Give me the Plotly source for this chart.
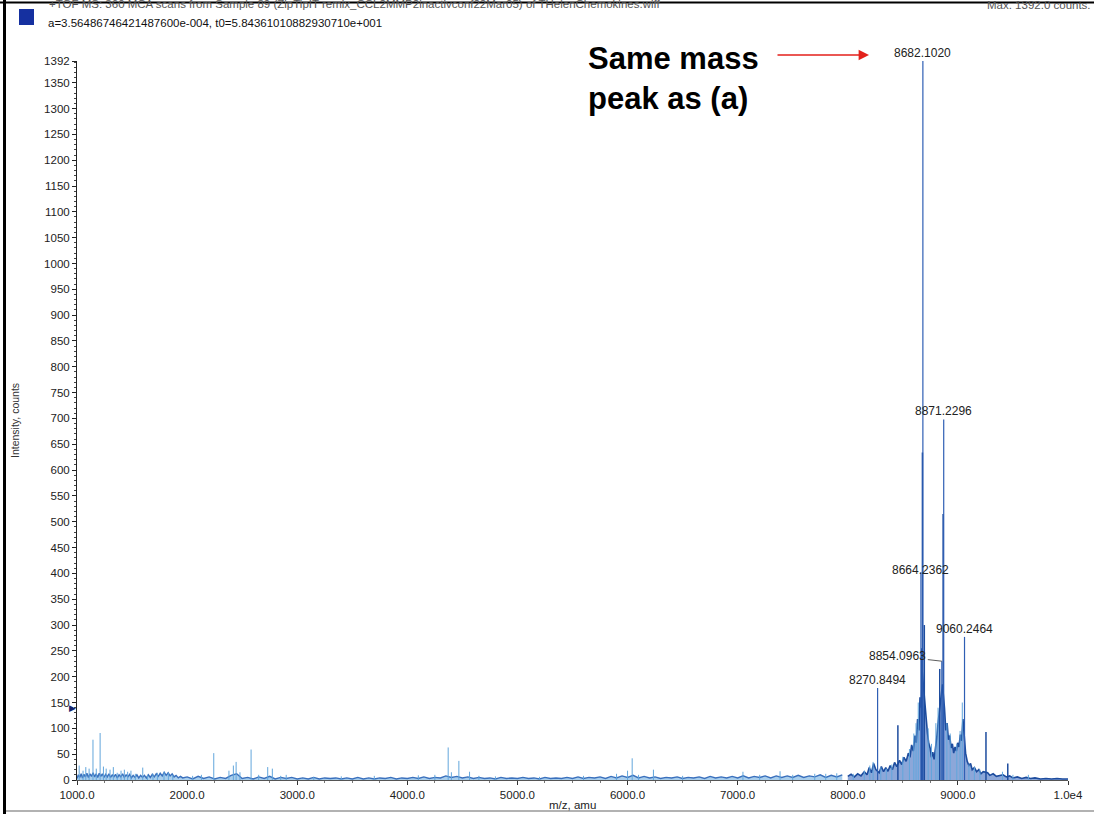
import plotly.graph_objects as go

# ---- Spectrum data (m/z in amu, intensity in counts) ----

# Baseline trace, 1000-1950 amu
low_mz = [1000, 1012, 1025, 1038, 1050, 1063, 1076, 1090, 1104, 1118,
          1132, 1146, 1160, 1174, 1188, 1202, 1216, 1230, 1245, 1260,
          1275, 1290, 1305, 1320, 1335, 1350, 1366, 1382, 1398, 1414,
          1430, 1446, 1462, 1478, 1494, 1510, 1527, 1544, 1561, 1578,
          1595, 1612, 1630, 1648, 1666, 1684, 1702, 1720, 1738, 1756,
          1774, 1792, 1810, 1828, 1846, 1864, 1882, 1900, 1920, 1940]
low_counts = [3, 10, 5, 12, 4, 11, 6, 13, 5, 12,
              7, 14, 6, 12, 5, 13, 7, 12, 5, 11,
              6, 12, 5, 10, 6, 11, 4, 10, 6, 12,
              5, 10, 6, 11, 4, 9, 5, 10, 4, 9,
              5, 9, 4, 10, 5, 11, 6, 12, 7, 13,
              8, 15, 9, 14, 8, 12, 6, 9, 4, 7]

# Baseline trace, 1960-7950 amu
mid_mz = [1960, 2000, 2050, 2100, 2150, 2200, 2250, 2300, 2350, 2400,
          2450, 2500, 2550, 2600, 2650, 2700, 2750, 2800, 2850, 2900,
          2950, 3000, 3050, 3100, 3150, 3200, 3250, 3300, 3350, 3400,
          3450, 3500, 3550, 3600, 3650, 3700, 3750, 3800, 3850, 3900,
          3950, 4000, 4050, 4100, 4150, 4200, 4250, 4300, 4350, 4400,
          4450, 4500, 4550, 4600, 4650, 4700, 4750, 4800, 4850, 4900,
          4950, 5000, 5050, 5100, 5150, 5200, 5250, 5300, 5350, 5400,
          5450, 5500, 5550, 5600, 5650, 5700, 5750, 5800, 5850, 5900,
          5950, 6000, 6050, 6100, 6150, 6200, 6250, 6300, 6350, 6400,
          6450, 6500, 6550, 6600, 6650, 6700, 6750, 6800, 6850, 6900,
          6950, 7000, 7050, 7100, 7150, 7200, 7250, 7300, 7350, 7400,
          7450, 7500, 7550, 7600, 7650, 7700, 7750, 7800, 7850, 7900,
          7950]
mid_counts = [4, 6, 2, 7, 3, 6, 2, 5, 3, 9,
              12, 3, 5, 2, 6, 3, 7, 2, 5, 3,
              5, 2, 4, 2, 5, 2, 4, 3, 4, 2,
              4, 2, 5, 2, 4, 2, 4, 3, 5, 2,
              4, 3, 5, 3, 6, 3, 5, 4, 8, 5,
              7, 4, 6, 3, 5, 3, 4, 2, 5, 3,
              4, 3, 5, 3, 4, 2, 5, 3, 4, 3,
              5, 3, 6, 3, 5, 4, 6, 3, 7, 4,
              8, 5, 9, 4, 7, 4, 6, 3, 5, 4,
              6, 3, 5, 4, 6, 3, 7, 4, 6, 4,
              7, 4, 8, 4, 7, 5, 8, 4, 8, 5,
              8, 5, 9, 5, 8, 6, 10, 5, 9, 6,
              10]

# Envelope of the 8-9.5 kDa cluster
cluster_mz = [8000, 8030, 8060, 8090, 8120, 8150, 8175, 8195, 8215, 8235,
              8255, 8285, 8305, 8325, 8345, 8365, 8385, 8405, 8425, 8445,
              8470, 8490, 8510, 8530, 8550, 8565, 8580, 8595, 8610, 8622,
              8634, 8646, 8656, 8668, 8676, 8688, 8700, 8712, 8724, 8736,
              8748, 8760, 8772, 8784, 8796, 8808, 8820, 8840, 8860, 8878,
              8890, 8902, 8914, 8926, 8938, 8950, 8962, 8974, 8986, 8998,
              9010, 9022, 9034, 9046, 9070, 9085, 9100, 9115, 9130, 9150,
              9170, 9190, 9210, 9230, 9270, 9290, 9320, 9350, 9380, 9410,
              9440, 9470, 9500, 9540, 9580, 9620, 9660, 9700, 9750, 9800,
              9850, 9900, 9950, 10000]
cluster_counts = [7, 11, 6, 12, 8, 16, 10, 24, 14, 32,
                  20, 14, 26, 16, 24, 17, 28, 20, 34, 26,
                  38, 30, 44, 36, 52, 44, 68, 56, 86, 72,
                  118, 96, 160, 140, 210, 180, 150, 110, 90, 70,
                  62, 44, 54, 40, 58, 82, 110, 150, 185, 140,
                  96, 110, 78, 86, 62, 70, 52, 64, 56, 72,
                  64, 88, 76, 118, 52, 36, 28, 32, 20, 24,
                  16, 20, 12, 16, 14, 9, 12, 7, 9, 10,
                  6, 8, 4, 6, 3, 5, 3, 4, 2, 3,
                  2, 3, 2, 2]

# Minor centroid peaks
minor_mz = [1020, 1055, 1080, 1110, 1145, 1175, 1210, 1240, 1265, 1300,
            1330, 1365, 1400, 1430, 1460, 1490, 1530, 1597, 1640, 1690,
            1730, 1790, 1830, 1870, 2050, 2130, 2242, 2380, 2420, 2445,
            2480, 2581, 2650, 2732, 2774, 2850, 2900, 3150, 3400, 3700,
            4100, 4250, 4371, 4400, 4468, 4565, 4650, 4800, 5200, 5600,
            5900, 6000, 6042, 6100, 6235, 6500, 7048, 7200, 7385, 7500,
            7700, 7800, 7900, 8050, 8150, 8200, 8230, 8300, 8350, 8400,
            8500, 8560, 8600, 8620, 8640, 8730, 8760, 8800, 8820, 8900,
            8930, 8990, 9020, 9040, 9100, 9150, 9200, 9405, 9500, 9640]
minor_counts = [28, 18, 25, 22, 78, 22, 91, 26, 22, 20,
                25, 14, 18, 20, 16, 18, 12, 24, 10, 12,
                14, 16, 14, 10, 8, 10, 52, 18, 28, 35,
                15, 59, 10, 25, 22, 8, 10, 6, 7, 8,
                9, 10, 63, 15, 37, 16, 8, 7, 6, 8,
                12, 18, 42, 10, 20, 8, 16, 10, 17, 10,
                12, 12, 13, 12, 18, 28, 35, 25, 22, 30,
                45, 60, 90, 110, 150, 100, 70, 110, 140, 110,
                90, 70, 95, 150, 30, 25, 20, 16, 10, 10]

# Strong unlabelled peaks
major_mz = [8455, 8672, 8678, 8695, 8835, 8866, 9255, 9453]
major_counts = [106, 255, 634, 300, 215, 515, 93, 32]

# Labelled peaks
label_mz = [8682.1020, 8871.2296, 8664.2362, 9060.2464, 8854.0963, 8270.8494]
label_counts = [1392, 698, 402, 277, 230, 178]

# Axis ticks
x_ticks = [1000, 2000, 3000, 4000, 5000, 6000, 7000, 8000, 9000, 10000]
x_tick_text = ["1000.0", "2000.0", "3000.0", "4000.0", "5000.0",
               "6000.0", "7000.0", "8000.0", "9000.0", "1.0e4"]
y_ticks = [0, 50, 100, 150, 200, 250, 300, 350, 400, 450, 500, 550, 600,
           650, 700, 750, 800, 850, 900, 950, 1000, 1050, 1100, 1150,
           1200, 1250, 1300, 1350, 1392]

FONT = "Liberation Sans, Arial, sans-serif"
DARK = "#1d4c9e"
LIGHT = "#62a6dc"

# Plot-area geometry in page pixels, used to place page furniture
L, R, T, B = 77, 1068, 61, 780


def px_x(px):
    return (px - L) / (R - L)


def px_y(py):
    return (B - py) / (B - T)


def sticks(mz, counts):
    xs, ys = [], []
    for m, c in zip(mz, counts):
        xs += [m, m, None]
        ys += [0, c, None]
    return xs, ys


fig = go.Figure()

# baseline, drawn as a light band under a darker trace
base_mz = low_mz + mid_mz
base_counts = low_counts + mid_counts
fig.add_trace(go.Scatter(x=base_mz, y=base_counts, mode="lines",
                         fill="tozeroy", fillcolor="rgba(98,166,220,0.55)",
                         line=dict(color="#3a70bd", width=1.4),
                         hoverinfo="skip"))

# cluster envelope with a dense fill
fig.add_trace(go.Scatter(x=cluster_mz, y=cluster_counts, mode="lines",
                         fill="tozeroy", fillcolor="rgba(45,95,185,0.55)",
                         line=dict(color=DARK, width=1.6), hoverinfo="skip"))

sx, sy = sticks(minor_mz, minor_counts)
fig.add_trace(go.Scatter(x=sx, y=sy, mode="lines",
                         line=dict(color=LIGHT, width=1), hoverinfo="skip"))

sx, sy = sticks(major_mz, major_counts)
fig.add_trace(go.Scatter(x=sx, y=sy, mode="lines",
                         line=dict(color=DARK, width=1.5), hoverinfo="skip"))

sx, sy = sticks(label_mz, label_counts)
fig.add_trace(go.Scatter(x=sx, y=sy, mode="lines",
                         line=dict(color="#2f5fb4", width=1.2), hoverinfo="skip"))

annotations = []
for m, c in zip(label_mz, label_counts):
    txt = f"{m:.4f}"
    if txt == "8854.0963":
        annotations.append(dict(x=m, y=c, xref="x", yref="y", text=txt,
                                showarrow=True, arrowhead=0, arrowwidth=0.8,
                                arrowcolor="#333", ax=-44, ay=-5, standoff=0,
                                font=dict(family=FONT, size=12, color="#222")))
    else:
        shift = 2 if txt == "8664.2362" else 8
        annotations.append(dict(x=m, y=c, xref="x", yref="y", text=txt,
                                showarrow=False, yshift=shift, yanchor="middle",
                                font=dict(family=FONT, size=12, color="#222")))

# cursor marker on the intensity axis
annotations.append(dict(x=1000, y=139, xref="x", yref="y", text="\u25B6",
                        showarrow=False, xanchor="right", xshift=1,
                        font=dict(family="DejaVu Sans", size=9, color="#14226a")))

# header lines
annotations += [
    dict(x=px_x(47), y=px_y(4), xref="paper", yref="paper", xanchor="left",
         yanchor="middle", showarrow=False,
         text="+TOF MS: 360 MCA scans from Sample 89 (ZipTipIT remix_CCL2MMP2inactivconf22Mar05) of THelenChemokines.wiff",
         font=dict(family=FONT, size=11.5, color="#555")),
    dict(x=px_x(1093), y=px_y(5), xref="paper", yref="paper", xanchor="right",
         yanchor="middle", showarrow=False, text="Max. 1392.0 counts.",
         font=dict(family=FONT, size=11.5, color="#555")),
    dict(x=px_x(46), y=px_y(23), xref="paper", yref="paper", xanchor="left",
         yanchor="middle", showarrow=False,
         text="a=3.56486746421487600e-004, t0=5.84361010882930710e+001",
         font=dict(family=FONT, size=11.5, color="#111")),
    dict(x=px_x(15), y=px_y(421), xref="paper", yref="paper", xanchor="center",
         yanchor="middle", showarrow=False, text="Intensity, counts",
         textangle=-90, font=dict(family=FONT, size=10.5, color="#333")),
    dict(x=px_x(547), y=px_y(805), xref="paper", yref="paper", xanchor="left",
         yanchor="middle", showarrow=False, text="m/z, amu",
         font=dict(family=FONT, size=11.5, color="#222")),
    dict(x=px_x(586), y=px_y(79), xref="paper", yref="paper", xanchor="left",
         yanchor="middle", align="left", showarrow=False,
         text="<b>Same mass<br>peak as (a)</b>",
         font=dict(family=FONT, size=31, color="#000")),
    dict(x=px_x(869), y=px_y(55), xref="paper", yref="paper", text="",
         showarrow=True, ax=-93, ay=0, arrowhead=2, arrowsize=1.3,
         arrowwidth=1.6, arrowcolor="#e3211b", standoff=0),
]

shapes = [
    dict(type="line", xref="paper", yref="paper", x0=px_x(4.5), x1=px_x(4.5),
         y0=px_y(0), y1=px_y(814), line=dict(color="#000", width=3)),
    dict(type="line", xref="paper", yref="paper", x0=px_x(0), x1=px_x(1094),
         y0=px_y(2.5), y1=px_y(2.5), line=dict(color="#000", width=2)),
    dict(type="line", xref="paper", yref="paper", x0=px_x(6), x1=px_x(1094),
         y0=px_y(811), y1=px_y(811), line=dict(color="#999", width=1.5)),
    dict(type="rect", xref="paper", yref="paper", x0=px_x(19), x1=px_x(34),
         y0=px_y(25), y1=px_y(9), fillcolor="#1530a0", line=dict(width=0)),
]

fig.update_layout(
    width=1094, height=814,
    margin=dict(l=L, r=1094 - R, t=T, b=814 - B),
    paper_bgcolor="white", plot_bgcolor="white",
    showlegend=False,
    font=dict(family=FONT, size=11.5, color="#222"),
    annotations=annotations,
    shapes=shapes,
    xaxis=dict(range=[1000, 10000], tickmode="array", tickvals=x_ticks,
               ticktext=x_tick_text, ticks="outside", ticklen=4,
               tickcolor="#333", showline=True, linecolor="#555", linewidth=1,
               showgrid=False, zeroline=False,
               tickfont=dict(family=FONT, size=11.5, color="#222"),
               minor=dict(ticks="outside", tick0=1000, dtick=250, ticklen=2,
                          tickcolor="#777", showgrid=False)),
    yaxis=dict(range=[0, 1392], tickmode="array", tickvals=y_ticks,
               ticks="outside", ticklen=4, tickcolor="#222",
               showline=True, linecolor="#222", linewidth=1,
               showgrid=False, zeroline=False,
               tickfont=dict(family=FONT, size=11.5, color="#222"),
               minor=dict(ticks="outside", tick0=0, dtick=10, ticklen=2,
                          tickcolor="#444", showgrid=False)),
)

fig.write_html("out.html")
